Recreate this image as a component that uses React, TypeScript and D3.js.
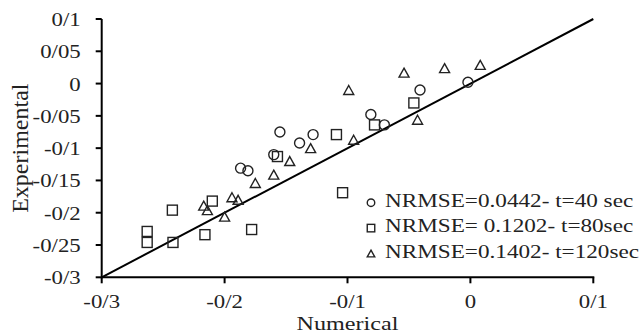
import * as d3 from 'd3'

const circles: [number, number][] = [
  [-0.187, -0.131], [-0.181, -0.135], [-0.16, -0.11], [-0.155, -0.075], [-0.139, -0.092],
  [-0.128, -0.079], [-0.081, -0.048], [-0.07, -0.064], [-0.041, -0.01], [-0.002, 0.002],
]
const squares: [number, number][] = [
  [-0.2425, -0.196], [-0.263, -0.229], [-0.263, -0.246], [-0.242, -0.246], [-0.216, -0.234],
  [-0.21, -0.182], [-0.178, -0.226], [-0.104, -0.169], [-0.157, -0.113], [-0.109, -0.079],
  [-0.078, -0.064], [-0.046, -0.03],
]
const triangles: [number, number][] = [
  [-0.217, -0.189], [-0.214, -0.196], [-0.2, -0.206], [-0.194, -0.176], [-0.189, -0.18],
  [-0.175, -0.154], [-0.16, -0.141], [-0.147, -0.12], [-0.13, -0.1], [-0.095, -0.087],
  [-0.099, -0.01], [-0.054, 0.017], [-0.021, 0.024], [0.008, 0.029], [-0.043, -0.056],
]

const xTicks = [-0.3, -0.2, -0.1, 0, 0.1]
const xTickLabels = ['-0/3', '-0/2', '-0/1', '0', '0/1']
const yTicks = [-0.3, -0.25, -0.2, -0.15, -0.1, -0.05, 0, 0.05, 0.1]
const yTickLabels = ['-0/3', '-0/25', '-0/2', '-0/15', '-0/1', '-0/05', '0', '0/05', '0/1']

const legendLabels = ['NRMSE=0.0442- t=40 sec', 'NRMSE= 0.1202- t=80sec', 'NRMSE=0.1402- t=120sec']

const font = '"Liberation Serif", "Times New Roman", serif'
const ink = '#222'

function Marker({ kind, x, y, s }: { kind: string; x: number; y: number; s: number }) {
  if (kind === 'circle') {
    return <circle cx={x} cy={y} r={s / 2} fill="none" stroke={ink} strokeWidth={1.4} />
  }
  if (kind === 'square') {
    return <rect x={x - s / 2} y={y - s / 2} width={s} height={s} fill="none" stroke={ink} strokeWidth={1.4} />
  }
  const h = s * 0.9
  const pts = `${x},${y - h / 2} ${x + s / 2},${y + h / 2} ${x - s / 2},${y + h / 2}`
  return <polygon points={pts} fill="none" stroke={ink} strokeWidth={1.4} strokeLinejoin="miter" />
}

export default function App() {
  const width = 642
  const height = 333
  const x = d3.scaleLinear().domain([-0.3, 0.1]).range([101.7, 593.3])
  const y = d3.scaleLinear().domain([-0.3, 0.1]).range([277.3, 19])
  const sx = 1.2

  const series = [
    { kind: 'circle', data: circles },
    { kind: 'square', data: squares },
    { kind: 'triangle', data: triangles },
  ]

  return (
    <svg width={width} height={height} style={{ position: 'absolute', left: 0, top: 0, background: '#fff' }}>
      {/* axes */}
      <line x1={x(-0.3)} x2={x(0.1) + 1} y1={y(-0.3)} y2={y(-0.3)} stroke="#000" strokeWidth={2} />
      <line x1={x(-0.3)} x2={x(-0.3)} y1={y(-0.3) + 1} y2={y(0.1)} stroke="#000" strokeWidth={2} />
      {xTicks.map((t, i) => (
        <g key={'xt' + i}>
          <line x1={x(t)} x2={x(t)} y1={y(-0.3)} y2={y(-0.3) + 6} stroke="#000" strokeWidth={2} />
          <text
            transform={`translate(${x(t)},${y(-0.3) + 31}) scale(${sx},1)`}
            textAnchor="middle"
            fontFamily={font}
            fontSize={19}
            fill={ink}
          >
            {xTickLabels[i]}
          </text>
        </g>
      ))}
      {yTicks.map((t, i) => (
        <g key={'yt' + i}>
          <line x1={x(-0.3) - 6} x2={x(-0.3)} y1={y(t)} y2={y(t)} stroke="#000" strokeWidth={2} />
          <text
            transform={`translate(${x(-0.3) - 21},${y(t) + 7}) scale(${sx},1)`}
            textAnchor="end"
            fontFamily={font}
            fontSize={19}
            fill={ink}
          >
            {yTickLabels[i]}
          </text>
        </g>
      ))}

      {/* 1:1 line */}
      <line x1={x(-0.3)} y1={y(-0.3)} x2={x(0.1)} y2={y(0.1)} stroke="#000" strokeWidth={2} />

      {series.map((s) =>
        s.data.map((d, i) => <Marker key={s.kind + i} kind={s.kind} x={x(d[0])} y={y(d[1])} s={10} />)
      )}

      {/* axis titles */}
      <text
        transform={`translate(${(x(-0.3) + x(0.1)) / 2},330) scale(1.24,1)`}
        textAnchor="middle"
        fontFamily={font}
        fontSize={19.5}
        fill={ink}
      >
        Numerical
      </text>
      <text
        transform={`translate(28,${(y(-0.3) + y(0.1)) / 2}) rotate(-90)`}
        textAnchor="middle"
        fontFamily={font}
        fontSize={24}
        fill={ink}
      >
        Experimental
      </text>

      {/* legend */}
      {series.map((s, i) => (
        <g key={'lg' + i}>
          <Marker kind={s.kind} x={371} y={202.7 + i * 25.4} s={7.5} />
          <text
            transform={`translate(385,${206.9 + i * 25.4}) scale(1.22,1)`}
            fontFamily={font}
            fontSize={19}
            fill={ink}
          >
            {legendLabels[i]}
          </text>
        </g>
      ))}
    </svg>
  )
}
